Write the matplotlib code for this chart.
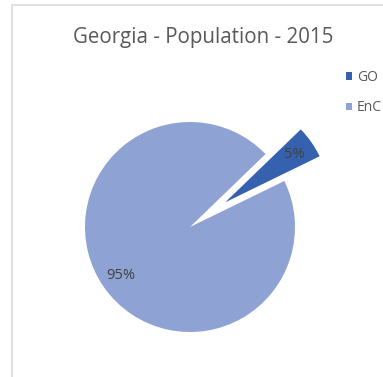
import matplotlib.pyplot as plt
from matplotlib.patches import Rectangle, Patch

labels = ['GO', 'EnC']
values = [5, 95]
colors = ['#3561AE', '#8EA2D4']
explode = [0.41, 0]

W, H = 383, 377
fig = plt.figure(figsize=(W / 100, H / 100), dpi=100)

# light chart-area border (runs off right and bottom)
fig.patches.append(Rectangle((12 / W, -0.1), 1.2, 1 - 5 / H + 0.1,
                             transform=fig.transFigure, fill=False,
                             edgecolor='#D9D9D9', linewidth=1.2))

cx, cy, r = 190, 227, 105
ax = fig.add_axes([(cx - r) / W, (H - cy - r) / H, 2 * r / W, 2 * r / H])
wedges, texts, autotexts = ax.pie(values, colors=colors, explode=explode,
                                  startangle=44, counterclock=False,
                                  autopct='%1.0f%%', pctdistance=0.8,
                                  textprops=dict(color='#404040', fontsize=10.5,
                                                 family='Open Sans'))
for w in wedges:
    w.set_clip_on(False)
for t in autotexts:
    t.set_clip_on(False)
ax.set_xlim(-1, 1)
ax.set_ylim(-1, 1)
ax.set_aspect('equal')

fig.text(203 / W, 1 - 37 / H, 'Georgia - Population - 2015', ha='center',
         va='center', fontsize=14.8, color='#595959', family='Open Sans')

handles = [Patch(facecolor=c, edgecolor='none') for c in colors]
fig.legend(handles, labels, loc='upper left',
           bbox_to_anchor=(346 / W, 1 - 70 / H), frameon=False,
           borderaxespad=0, borderpad=0,
           handlelength=0.45, handleheight=0.45, handletextpad=0.35,
           labelspacing=1.1, prop=dict(family='Open Sans', size=10),
           labelcolor='#595959')

fig.savefig('out.png', dpi=100)
